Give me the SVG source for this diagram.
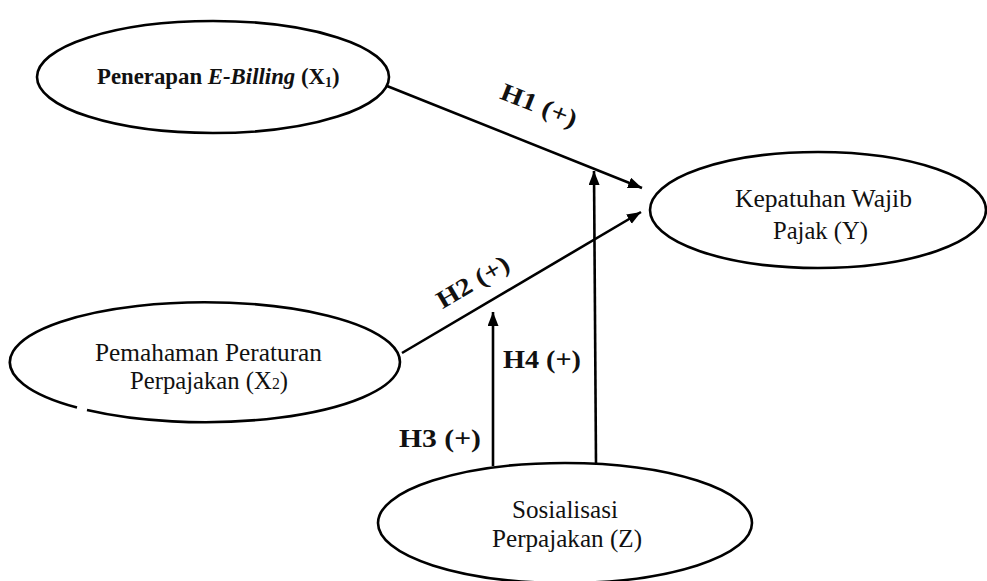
<svg xmlns="http://www.w3.org/2000/svg" width="987" height="581" viewBox="0 0 987 581">
<style>
.node { fill: #ffffff; stroke: #000000; stroke-width: 2.6; }
.t { font-family: 'Liberation Serif', serif; font-size: 25px; fill: #111111; }
.tb { font-family: 'Liberation Serif', serif; font-size: 22.8px; font-weight: bold; fill: #111111; }
.lbl { font-family: 'Liberation Serif', serif; font-weight: bold; font-size: 25px; fill: #111111; }
.conn { stroke: #000000; stroke-width: 2.6; fill: none; marker-end: url(#arr); }
</style>
<defs>
<marker id="arr" markerUnits="userSpaceOnUse" markerWidth="15" markerHeight="12" refX="14" refY="5.5" orient="auto">
<path d="M0,0 L14,5.5 L0,11 z" fill="#000000"/>
</marker>
</defs>
<rect width="987" height="581" fill="#ffffff"/>
<g id="connectors">
<line class="conn" x1="387" y1="86" x2="642" y2="188"/>
<line class="conn" x1="402" y1="353" x2="641" y2="212"/>
<line class="conn" x1="493" y1="466" x2="493" y2="312"/>
<line class="conn" x1="596" y1="463" x2="594" y2="171"/>
</g>
<g id="node-x1">
<ellipse class="node" cx="213" cy="77" rx="176" ry="56"/>
<text class="tb" x="97" y="84">Penerapan <tspan font-style="italic">E-Billing</tspan> (X<tspan font-size="14" dy="3">1</tspan><tspan dy="-3">)</tspan></text>
</g>
<g id="node-y">
<ellipse class="node" cx="818" cy="210" rx="168" ry="58"/>
<text class="t" x="735" y="207" textLength="177" lengthAdjust="spacingAndGlyphs">Kepatuhan Wajib</text>
<text class="t" x="773" y="239" textLength="95" lengthAdjust="spacingAndGlyphs">Pajak (Y)</text>
</g>
<g id="node-x2">
<path class="node" d="M 87 410 A 195 60 0 1 0 77 407.5"/>
<text class="t" x="95" y="361" textLength="227" lengthAdjust="spacingAndGlyphs">Pemahaman Peraturan</text>
<text class="t" x="130" y="389" textLength="158" lengthAdjust="spacingAndGlyphs">Perpajakan (X<tspan font-size="16">2</tspan>)</text>
</g>
<g id="node-z">
<ellipse class="node" cx="565" cy="523" rx="187" ry="60"/>
<text class="t" x="512" y="518" textLength="106" lengthAdjust="spacingAndGlyphs">Sosialisasi</text>
<text class="t" x="492" y="547" textLength="150" lengthAdjust="spacingAndGlyphs">Perpajakan (Z)</text>
</g>
<g id="labels">
<text class="lbl" x="536" y="113" text-anchor="middle" transform="rotate(21.6 536 113)" textLength="80" lengthAdjust="spacingAndGlyphs">H1 (+)</text>
<text class="lbl" x="477" y="289" text-anchor="middle" transform="rotate(-30.5 477 289)" textLength="80" lengthAdjust="spacingAndGlyphs">H2 (+)</text>
<text class="lbl" x="399" y="447" textLength="82" lengthAdjust="spacingAndGlyphs">H3 (+)</text>
<text class="lbl" x="503" y="368" textLength="78" lengthAdjust="spacingAndGlyphs">H4 (+)</text>
</g>
</svg>
